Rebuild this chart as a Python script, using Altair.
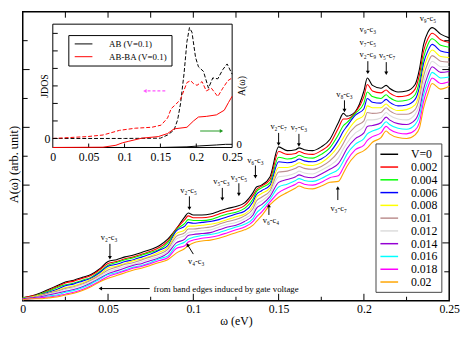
import altair as alt
import pandas as pd

SERIF = "Liberation Serif"

# ---------------- main panel data (A in arbitrary units) ----------------
omega = [0, 0.005, 0.01, 0.015, 0.02, 0.025, 0.03, 0.035, 0.04, 0.045,
         0.05, 0.055, 0.06, 0.065, 0.07, 0.075, 0.08, 0.085, 0.09, 0.095,
         0.097, 0.1, 0.105, 0.11, 0.115, 0.12, 0.125, 0.13, 0.135, 0.137,
         0.14, 0.145, 0.15, 0.155, 0.16, 0.162, 0.165, 0.17, 0.175, 0.18,
         0.185, 0.188, 0.19, 0.195, 0.2, 0.202, 0.205, 0.21, 0.213, 0.215,
         0.22, 0.225, 0.23, 0.2325, 0.235, 0.2375, 0.24, 0.245, 0.25]

V_labels = ["V=0", "0.002", "0.004", "0.006", "0.008", "0.01",
            "0.012", "0.014", "0.016", "0.018", "0.02"]
COLORS = ["#000000", "#ff0000", "#00ff00", "#0000ff", "#ffff00", "#bc8f8f",
          "#dcdcdc", "#9400d3", "#00ffff", "#ff00ff", "#ffa500"]

A_V0 = [3, 5, 8, 12, 16, 20, 22, 25, 28, 34, 42, 44, 47, 49, 52, 55, 59, 66, 77, 90,
        94, 92, 92, 93, 96, 99, 101, 105, 116, 122, 124, 133, 165, 161, 162, 164, 162, 161, 165, 173,
        191, 201, 198, 203, 225, 239, 231, 228, 231, 228, 224, 225, 232, 248, 275, 288, 293, 286, 282]
A_002 = [3, 5, 7, 11, 15, 19, 21, 24, 27, 33, 40, 42, 45, 47, 50, 53, 57, 64, 77, 87,
         91, 89, 89, 90, 93, 96, 98, 102, 113, 119, 123, 130, 160, 157, 158, 160, 158, 157, 161, 168,
         185, 195, 195, 202, 219, 232, 225, 223, 226, 223, 219, 220, 227, 242, 268, 281, 287, 280, 277]
A_004 = [3, 4, 7, 10, 14, 17, 19, 22, 25, 31, 38, 41, 44, 46, 49, 52, 55, 62, 76, 83,
         87, 86, 86, 87, 90, 93, 95, 99, 109, 117, 121, 127, 154, 152, 154, 156, 154, 153, 157, 164,
         178, 188, 191, 201, 212, 224, 219, 217, 221, 218, 214, 215, 221, 235, 261, 275, 281, 274, 272]
A_006 = [2, 4, 6, 9, 12, 16, 18, 21, 24, 30, 37, 39, 42, 44, 47, 50, 54, 59, 75, 80,
         84, 83, 84, 85, 87, 90, 93, 96, 106, 114, 118, 124, 149, 148, 150, 152, 150, 149, 152, 159,
         172, 182, 187, 199, 206, 217, 213, 212, 216, 213, 209, 210, 216, 229, 255, 268, 275, 268, 266]
A_008 = [2, 4, 6, 8, 11, 14, 16, 19, 23, 28, 35, 37, 40, 43, 45, 48, 52, 57, 72, 76,
         80, 80, 81, 82, 84, 87, 90, 93, 102, 111, 115, 121, 143, 143, 146, 148, 146, 145, 148, 155,
         166, 175, 181, 193, 199, 209, 207, 207, 211, 208, 204, 205, 210, 223, 248, 262, 269, 262, 261]
A_010 = [2, 3, 5, 8, 10, 13, 15, 18, 22, 27, 33, 36, 39, 41, 44, 47, 50, 55, 69, 73,
         77, 77, 78, 79, 82, 85, 87, 91, 99, 107, 111, 118, 138, 139, 142, 144, 142, 141, 144, 150,
         160, 169, 176, 187, 193, 202, 201, 202, 207, 204, 200, 200, 205, 217, 241, 255, 263, 257, 256]
A_012 = [2, 3, 4, 7, 9, 12, 14, 17, 20, 26, 31, 34, 37, 39, 42, 45, 48, 53, 66, 70,
         73, 74, 75, 76, 79, 82, 84, 88, 95, 103, 107, 115, 133, 134, 137, 139, 137, 136, 140, 145,
         153, 163, 169, 180, 187, 194, 194, 196, 202, 199, 195, 194, 200, 210, 234, 248, 257, 251, 251]
A_014 = [2, 3, 4, 6, 8, 10, 12, 15, 19, 24, 29, 32, 35, 38, 40, 43, 46, 51, 62, 66,
         70, 71, 72, 73, 76, 79, 81, 85, 92, 99, 103, 112, 127, 130, 133, 135, 133, 132, 136, 141,
         147, 156, 163, 174, 180, 187, 188, 191, 197, 194, 190, 189, 194, 204, 227, 242, 251, 245, 246]
A_016 = [1, 2, 3, 5, 6, 9, 11, 14, 18, 23, 28, 30, 33, 36, 38, 41, 45, 48, 59, 63,
         66, 68, 70, 71, 73, 76, 79, 82, 88, 94, 99, 109, 122, 125, 129, 131, 129, 128, 131, 136,
         141, 150, 157, 168, 174, 179, 182, 186, 192, 189, 185, 184, 189, 198, 221, 235, 245, 239, 240]
A_018 = [1, 2, 3, 4, 5, 7, 9, 12, 16, 21, 26, 29, 32, 35, 37, 40, 43, 46, 56, 59,
         63, 65, 67, 68, 70, 73, 76, 79, 85, 90, 95, 106, 116, 121, 125, 127, 125, 124, 127, 132,
         134, 143, 150, 162, 167, 172, 176, 180, 187, 184, 180, 179, 183, 191, 214, 229, 239, 233, 235]
A_020 = [1, 2, 2, 3, 4, 6, 8, 11, 15, 20, 24, 27, 30, 33, 35, 38, 41, 44, 51, 56,
         59, 62, 64, 65, 67, 70, 73, 76, 81, 85, 91, 103, 111, 116, 121, 123, 121, 120, 123, 127,
         128, 137, 144, 156, 161, 164, 170, 175, 182, 179, 175, 174, 178, 185, 207, 222, 233, 227, 230]

CURVES = [A_V0, A_002, A_004, A_006, A_008, A_010, A_012, A_014, A_016, A_018, A_020]

# annotations (label positions in data units)
ANN_TEXT = ["v₂-c₃", "v₂-c₅", "v₅-c₃", "v₃-c₅", "v₆-c₃", "v₄-c₃", "v₆-c₄", "v₂-c₇",
            "v₇-c₃", "v₈-c₃", "v₃-c₇", "v₉-c₃", "v₇-c₅", "v₂-c₉", "v₅-c₇", "v₉-c₅"]
ANN_W = [0.0506, 0.0972, 0.1165, 0.1267, 0.1364, 0.1017, 0.1455, 0.15,
         0.1619, 0.1886, 0.1852, 0.2023, 0.2023, 0.2023, 0.2136, 0.2375]
ANN_A = [68, 119, 128, 133, 151, 42, 87, 187, 186, 222, 99, 292, 278, 265, 264, 303]

GATE_TEXT = ["from band edges induced by gate voltage"]
GATE_W = [0.0767]
GATE_A = [13]

# arrows: start (W1, A1) -> tip (W2, A2)
ARR_W1 = [0.0511, 0.0977, 0.117, 0.1267, 0.1364, 0.1, 0.1443, 0.15, 0.1619, 0.1886, 0.1847, 0.2023, 0.2131, 0.0744]
ARR_A1 = [61, 112, 121, 126, 145, 50, 92, 180, 179, 215, 108, 257, 256, 13]
ARR_W2 = [0.0511, 0.0977, 0.117, 0.1267, 0.1364, 0.0966, 0.1443, 0.15, 0.1619, 0.1886, 0.1847, 0.2023, 0.2131, 0.0455]
ARR_A2 = [46, 99, 109, 114, 133, 60, 102, 168, 167, 204, 121, 245, 244, 13]
ARR_ANGLE = [180, 180, 180, 180, 180, 329, 0, 180, 180, 180, 0, 180, 180, 270]

XT_MAJOR = [0.05, 0.1, 0.15, 0.2]
XT_MINOR = [0.025, 0.075, 0.125, 0.175, 0.225]
YT_MAJOR = [62, 124, 186, 248]
YT_MINOR = [31, 93, 155, 217, 279]

# ---------------- inset data ----------------
INSET_SERIES = ["AB (V=0.1)", "AB-BA (V=0.1)"]
J_AB_W = [0, 0.1, 0.15, 0.16, 0.169, 0.174, 0.178, 0.183, 0.187, 0.1905, 0.194, 0.199,
          0.203, 0.21, 0.217, 0.223, 0.23, 0.237, 0.243, 0.25]
J_AB = [0, 0, 0.3, 3.7, 9, 20, 37, 70, 104, 119, 114, 87, 77, 72, 54, 65, 64, 74, 80, 69]
J_ABBA_W = [0, 0.048, 0.07, 0.093, 0.115, 0.138, 0.151, 0.16, 0.165, 0.172, 0.178, 0.183,
            0.187, 0.192, 0.196, 0.201, 0.208, 0.214, 0.221, 0.23, 0.237, 0.244, 0.25]
J_ABBA = [0, 2, 3.7, 8.7, 11, 12, 14.3, 22, 32, 37, 42, 52, 60, 62, 59, 57, 61, 51, 54, 45, 54, 62, 65]
A_AB_W = [0, 0.15, 0.187, 0.205, 0.228, 0.241, 0.25]
A_AB = [0, 0, 0.7, 1.7, 2.7, 3.4, 3.4]
A_ABBA_W = [0, 0.07, 0.088, 0.097, 0.106, 0.124, 0.147, 0.16, 0.169, 0.187, 0.196, 0.203,
            0.214, 0.228, 0.239, 0.245, 0.25]
A_ABBA = [0, 0.3, 2.4, 5, 6.7, 10, 11.7, 15, 20, 21.7, 28.4, 32.7, 33.4, 35, 40, 48.4, 55]

IN_XT = [0.05, 0.1, 0.15, 0.2]
IN_JT = [0, 18.8, 37.6, 56.4, 75.2, 94, 112.8]

# ---------------- layout constants ----------------
W, H = 434, 294
IX0, IX1 = 30.6, 213.1          # inset x pixel range
IY0, IY1 = 138.1, 12.6          # inset y pixel range (bottom, top)

XS = alt.Scale(domain=[0, 0.25], nice=False, zero=False)
YS = alt.Scale(domain=[0, 310], nice=False, zero=False)
XI = alt.Scale(domain=[0, 0.25], range=[IX0, IX1], nice=False, zero=False)
YJ = alt.Scale(domain=[-9.7, 122.7], range=[IY0, IY1], nice=False, zero=False)
YA = alt.Scale(domain=[0, 132.4], range=[IY0, IY1], nice=False, zero=False)

ax_x = alt.Axis(values=[0, 0.05, 0.1, 0.15, 0.2, 0.25], format="~g", labelFont=SERIF,
                labelFontSize=12, labelColor="black", ticks=False, domain=False, grid=False,
                labelPadding=3, labelFlush=False, title="ω (eV)", titleFont=SERIF,
                titleFontSize=12, titleFontWeight="normal", titleColor="black", titlePadding=1)
ax_y = alt.Axis(labels=False, ticks=False, domain=False, grid=False,
                title="A(ω) (arb. unit)", titleFont=SERIF, titleFontSize=12.5,
                titleFontWeight="normal", titleColor="black", titleAngle=270,
                titleBaseline="bottom", titleX=-2, titleY=155)

leg_main = alt.Legend(orient="none", legendX=359, legendY=134, title=None, padding=4,
                      fillColor="white", strokeColor="#444444", symbolType="M-1.5,0H1.5",
                      symbolSize=144, symbolStrokeWidth=1.5, symbolOffset=3, labelOffset=15,
                      labelFont=SERIF, labelFontSize=12, labelColor="black", rowPadding=0,
                      labelLimit=0)

rows = []
for lab, vals in zip(V_labels, CURVES):
    assert len(vals) == len(omega), lab
    for w, a in zip(omega, vals):
        rows.append({"omega": w, "A": a, "V": lab})
main_df = pd.DataFrame(rows)

X = alt.X("omega:Q", scale=XS, axis=ax_x)
Y = alt.Y("A:Q", scale=YS, axis=ax_y)

lines = alt.Chart(main_df).mark_line(strokeWidth=1.1, interpolate="monotone").encode(
    x=X, y=Y,
    color=alt.Color("V:N", scale=alt.Scale(domain=V_labels, range=COLORS), legend=leg_main),
)


def xticks(vals, y0, y1):
    return alt.Chart(pd.DataFrame({"omega": vals})).mark_rule(color="black", strokeWidth=1).encode(
        x=X, y=alt.value(y0), y2=alt.value(y1))


def yticks(vals, x0, x1):
    return alt.Chart(pd.DataFrame({"A": vals})).mark_rule(color="black", strokeWidth=1).encode(
        y=Y, x=alt.value(x0), x2=alt.value(x1))


tick_layers = [
    xticks(XT_MAJOR, H, H - 7), xticks(XT_MINOR, H, H - 4),
    xticks(XT_MAJOR, 0, 6), xticks(XT_MINOR, 0, 6),
    yticks(YT_MAJOR, 0, 7), yticks(YT_MINOR, 0, 5),
    yticks(YT_MAJOR, W, W - 7), yticks(YT_MINOR, W, W - 5),
]

ann = alt.Chart(pd.DataFrame({"omega": ANN_W, "A": ANN_A, "label": ANN_TEXT})).mark_text(
    font=SERIF, fontSize=8.5, color="black").encode(x=X, y=Y, text="label:N")
gate = alt.Chart(pd.DataFrame({"omega": GATE_W, "A": GATE_A, "label": GATE_TEXT})).mark_text(
    font=SERIF, fontSize=9, color="black", align="left").encode(x=X, y=Y, text="label:N")

arr_df = pd.DataFrame({"omega": ARR_W1, "A": ARR_A1, "omega2": ARR_W2, "A2": ARR_A2, "angle": ARR_ANGLE})
arr_shaft = alt.Chart(arr_df).mark_rule(color="black", strokeWidth=1).encode(
    x=X, y=Y, x2="omega2:Q", y2="A2:Q")
arr_head = alt.Chart(arr_df).mark_point(shape="triangle-up", filled=True, color="black",
                                        size=16, opacity=1, strokeWidth=0).encode(
    x=alt.X("omega2:Q", scale=XS, axis=ax_x), y=alt.Y("A2:Q", scale=YS, axis=ax_y),
    angle=alt.Angle("angle:Q", scale=None))

main = alt.layer(lines, *tick_layers, ann, gate, arr_shaft, arr_head)

# ---------------- inset ----------------
axJ_x = alt.Axis(orient="bottom", offset=-(H - IY0), values=[0, 0.05, 0.1, 0.15, 0.2, 0.25],
                 format="~g", labelFont=SERIF, labelFontSize=12, labelColor="black",
                 ticks=False, domain=False, grid=False, title=None, labelPadding=4,
                 labelFlush=False, zindex=1)
axJ_y = alt.Axis(orient="left", offset=-IX0, values=[0], format="~g", labelFont=SERIF,
                 labelFontSize=12, labelColor="black", ticks=False, domain=False, grid=False,
                 title="JDOS", titleFont=SERIF, titleFontSize=10, titleFontWeight="normal",
                 titleColor="black", titleAngle=270, titleBaseline="bottom", titleX=-3,
                 titleY=75, labelPadding=3, zindex=1)
axA_y = alt.Axis(orient="right", offset=-(W - IX1), values=[0], format="~g", labelFont=SERIF,
                 labelFontSize=11, labelColor="black", ticks=False, domain=False, grid=False,
                 title="A(ω)", titleFont=SERIF, titleFontSize=10, titleFontWeight="normal",
                 titleColor="black", titleAngle=270, titleBaseline="top", titleX=5,
                 titleY=75, labelPadding=4, labelOffset=-3, zindex=1)

XJ = alt.X("omega:Q", scale=XI, axis=axJ_x)
YJc = alt.Y("j:Q", scale=YJ, axis=axJ_y)

frame = alt.Chart(pd.DataFrame({"omega": [0], "omega2": [0.25], "j": [-9.7], "j2": [122.7]})).mark_rect(
    fill="white", stroke="black", strokeWidth=1).encode(x=XJ, x2="omega2:Q", y=YJc, y2="j2:Q")

jrows = [{"omega": w, "j": v, "series": INSET_SERIES[0]} for w, v in zip(J_AB_W, J_AB)]
jrows += [{"omega": w, "j": v, "series": INSET_SERIES[1]} for w, v in zip(J_ABBA_W, J_ABBA)]
jlines = alt.Chart(pd.DataFrame(jrows)).mark_line(strokeWidth=1, strokeDash=[4, 2]).encode(
    x=XJ, y=YJc,
    color=alt.Color("series:N", scale=alt.Scale(domain=INSET_SERIES, range=["black", "red"]), legend=None))

in_xt = alt.Chart(pd.DataFrame({"omega": IN_XT})).mark_rule(color="black").encode(
    x=XJ, y=alt.value(IY0), y2=alt.value(IY0 - 4))
in_jt = alt.Chart(pd.DataFrame({"j": IN_JT})).mark_rule(color="black").encode(
    y=YJc, x=alt.value(IX0), x2=alt.value(IX0 + 5))

mag = pd.DataFrame({"omega": [0.1568], "j": [51], "omega2": [0.1284], "angle": [270]})
grn = pd.DataFrame({"omega": [0.2054], "j": [8], "omega2": [0.2351], "angle": [90]})
mag_shaft = alt.Chart(mag).mark_rule(color="#ff55ff", strokeWidth=1.2, strokeDash=[3, 2]).encode(
    x=XJ, x2="omega2:Q", y=YJc)
mag_head = alt.Chart(mag).mark_point(shape="triangle-up", filled=True, color="#ff55ff", size=16,
                                     opacity=1, strokeWidth=0).encode(
    x=alt.X("omega2:Q", scale=XI, axis=axJ_x), y=YJc, angle=alt.Angle("angle:Q", scale=None))
grn_shaft = alt.Chart(grn).mark_rule(color="#229922", strokeWidth=1).encode(
    x=XJ, x2="omega2:Q", y=YJc)
grn_head = alt.Chart(grn).mark_point(shape="triangle-up", filled=True, color="#229922", size=16,
                                     opacity=1, strokeWidth=0).encode(
    x=alt.X("omega2:Q", scale=XI, axis=axJ_x), y=YJc, angle=alt.Angle("angle:Q", scale=None))

insetJ = alt.layer(frame, jlines, in_xt, in_jt, mag_shaft, mag_head, grn_shaft, grn_head)

leg_in = alt.Legend(orient="none", legendX=46.4, legendY=23.7, title=None, padding=4,
                    fillColor="white", strokeColor="black", symbolType="M-2,0H2", symbolSize=81,
                    symbolStrokeWidth=1, symbolOffset=6.5, labelOffset=21, labelFont=SERIF,
                    labelFontSize=9, labelColor="black", rowPadding=3)
arows = [{"omega": w, "a": v, "series": INSET_SERIES[0]} for w, v in zip(A_AB_W, A_AB)]
arows += [{"omega": w, "a": v, "series": INSET_SERIES[1]} for w, v in zip(A_ABBA_W, A_ABBA)]
insetA = alt.Chart(pd.DataFrame(arows)).mark_line(strokeWidth=1).encode(
    x=alt.X("omega:Q", scale=XI, axis=None),
    y=alt.Y("a:Q", scale=YA, axis=axA_y),
    color=alt.Color("series:N", scale=alt.Scale(domain=INSET_SERIES, range=["black", "red"]), legend=leg_in))

chart = alt.layer(main, insetJ, insetA).resolve_scale(
    x="independent", y="independent", color="independent"
).properties(
    width=W, height=H,
    padding={"left": 15, "top": 1, "right": 12, "bottom": 28},
    autosize=alt.AutoSizeParams(type="none"),
    background="white",
).configure_view(stroke="black", strokeWidth=1.5)

chart.save("out.html", embed_options={"renderer": "svg", "actions": False})
